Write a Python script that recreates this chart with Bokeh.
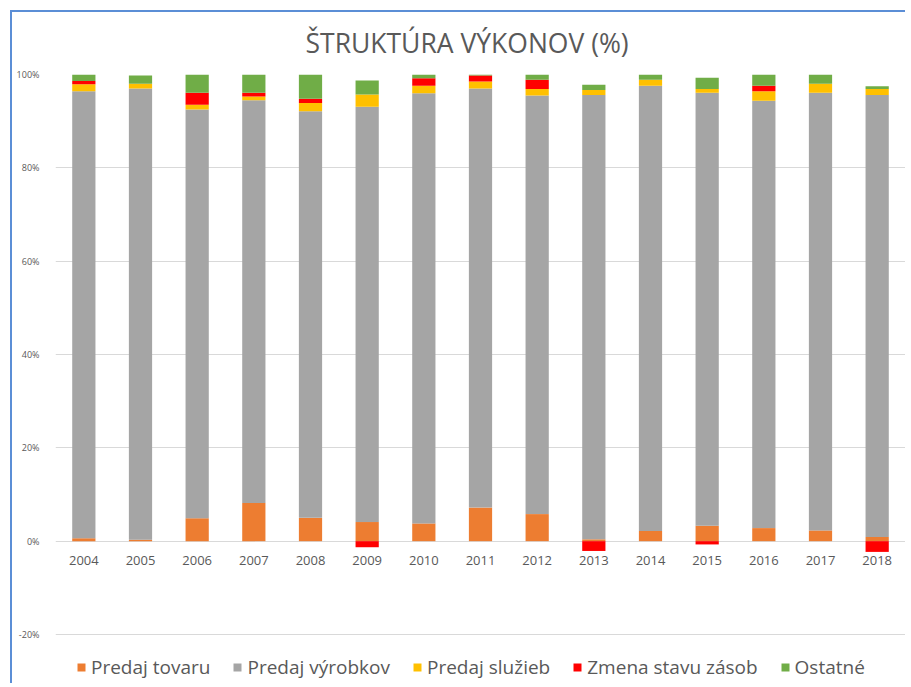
import numpy as np
from bokeh.plotting import figure
from bokeh.models import (FactorRange, Range1d, FixedTicker, PrintfTickFormatter,
                          Legend, LegendItem, Title, ColumnDataSource)
from bokeh.core.properties import value
from bokeh.embed import file_html
from bokeh.resources import INLINE

years = ["2004", "2005", "2006", "2007", "2008", "2009", "2010", "2011",
         "2012", "2013", "2014", "2015", "2016", "2017", "2018"]
predaj_tovaru = [0.6, 0.3, 4.9, 8.2, 5.0, 4.1, 3.8, 7.2, 5.8, 0.4, 2.2, 3.3, 2.8, 2.3, 0.9]
predaj_vyrobkov = [95.8, 96.7, 87.6, 86.3, 87.1, 89.0, 92.2, 89.8, 89.7, 95.2, 95.4, 92.8, 91.6, 93.8, 94.7]
predaj_sluzieb = [1.5, 1.0, 1.0, 0.8, 1.8, 2.6, 1.6, 1.5, 1.4, 1.1, 1.3, 0.8, 2.0, 1.9, 1.3]
zmena_stavu_zasob = [0.7, 0.0, 2.6, 0.8, 0.9, -1.3, 1.6, 1.3, 2.0, -2.1, 0.0, -0.7, 1.2, 0.0, -2.3]
ostatne = [1.4, 1.8, 3.9, 3.9, 5.2, 3.0, 0.8, 0.2, 1.1, 1.1, 1.1, 2.4, 2.4, 2.0, 0.6]

series_names = ["Predaj tovaru", "Predaj výrobkov", "Predaj služieb", "Zmena stavu zásob", "Ostatné"]
series_values = [predaj_tovaru, predaj_vyrobkov, predaj_sluzieb, zmena_stavu_zasob, ostatne]
series_colors = ["#ED7D31", "#A5A5A5", "#FFC000", "#FF0000", "#70AD47"]
y_ticks = [-20, 0, 20, 40, 60, 80, 100]
title_text = "ŠTRUKTÚRA VÝKONOV (%)"

FONT = "Open Sans"
TXT = "#595959"

# y range extends below -20% only to make room for the legend inside the frame
p = figure(x_range=FactorRange(*years, range_padding=0), y_range=Range1d(-30.5, 100),
           width=905, height=683, output_backend="svg", toolbar_location=None,
           x_axis_location=None,
           min_border_left=55, min_border_right=0, min_border_top=74, min_border_bottom=0)
p.styles = {"box-shadow": "inset 10px 10px 0 0 #ffffff, inset 12px 12px 0 0 #5B8ED6"}
p.outline_line_color = None
p.background_fill_color = "white"
p.border_fill_color = None

t = Title(text=title_text, align="left", offset=250, standoff=27,
          text_font=FONT, text_font_size="26.5px", text_font_style="normal",
          text_color=TXT)
p.add_layout(t, "above")

p.yaxis.ticker = FixedTicker(ticks=y_ticks)
p.yaxis.formatter = PrintfTickFormatter(format="%d%%")
p.yaxis.axis_line_color = None
p.yaxis.major_tick_line_color = None
p.yaxis.minor_tick_line_color = None
p.yaxis.major_label_text_font = FONT
p.yaxis.major_label_text_font_size = "9px"
p.yaxis.major_label_text_color = TXT
p.yaxis.major_label_standoff = 10
p.ygrid.ticker = FixedTicker(ticks=y_ticks)
p.ygrid.grid_line_color = "#D9D9D9"
p.xgrid.grid_line_color = None

pos = np.zeros(len(years))
neg = np.zeros(len(years))
items = []
for name, vals, col in zip(series_names, series_values, series_colors):
    v = np.array(vals, dtype=float)
    bottom = np.where(v >= 0, pos, neg)
    top = bottom + v
    pos = np.where(v >= 0, top, pos)
    neg = np.where(v < 0, top, neg)
    src = ColumnDataSource(dict(x=years, bottom=bottom, top=top))
    r = p.vbar(x="x", bottom="bottom", top="top", width=0.41, source=src,
               fill_color=col, line_color=None)
    items.append(LegendItem(label=name, renderers=[r]))

p.text(x=years, y=[0] * len(years), text=years, y_offset=19,
       text_align="center", text_baseline="middle", text_font=value(FONT),
       text_font_size="13px", text_color=TXT)

legend = Legend(items=items, orientation="horizontal", location=(21, 3),
                padding=0, margin=0, spacing=22, glyph_width=10, glyph_height=10,
                label_standoff=5, label_text_font=FONT, label_text_font_size="19px",
                label_text_color=TXT, border_line_color=None, background_fill_alpha=0)
p.add_layout(legend, "center")

open("out.html", "w").write(file_html(p, INLINE))
